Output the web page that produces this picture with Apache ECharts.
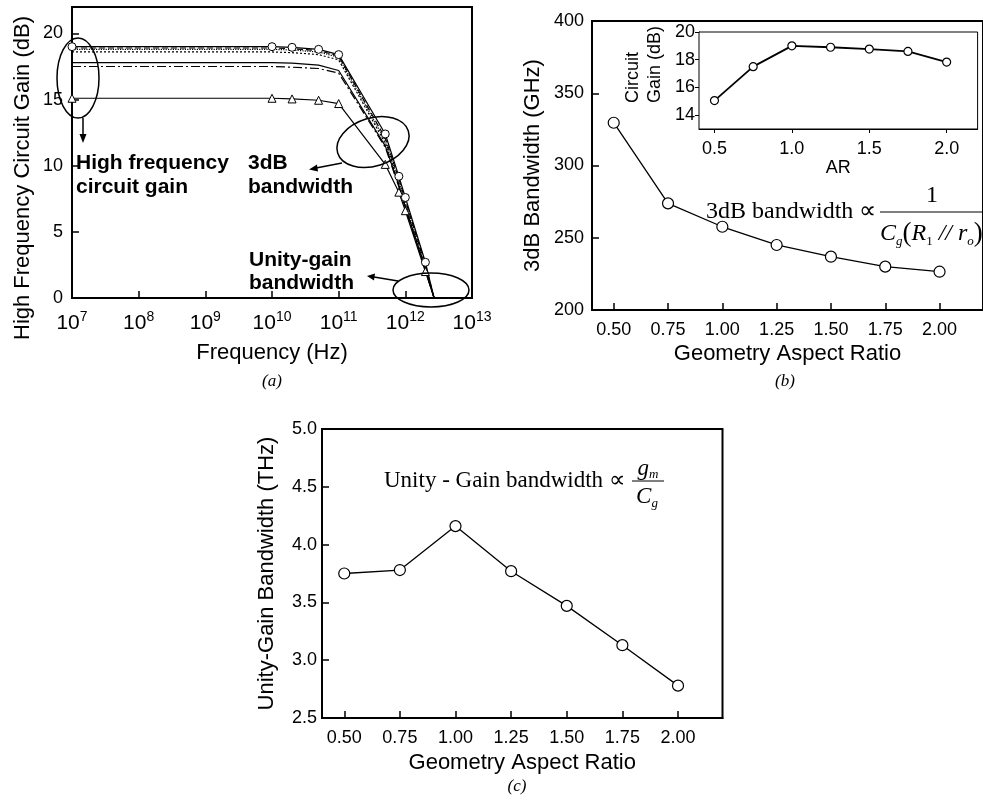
<!DOCTYPE html>
<html><head><meta charset="utf-8">
<script src="https://cdn.jsdelivr.net/npm/echarts@6/dist/echarts.min.js"></script>
<style>html,body{margin:0;padding:0;background:#fff}#c{width:983px;height:805px}</style>
</head><body><div id="c"></div>
<script>
// ---------- data ----------
const freqHz    = [1e7, 1e10, 2e10, 5e10, 1e11, 5e11, 8e11, 1e12, 2e12, 2.7e12];
const gainAR050 = [15.1, 15.1, 15.05, 14.95, 14.7, 10.1, 8.0, 6.6, 2.0, 0];
const gainAR075 = [17.5, 17.5, 17.45, 17.35, 17.0, 11.4, 8.4, 6.8, 2.1, 0];
const gainAR100 = [19.0, 19.0, 18.95, 18.8, 18.4, 12.4, 9.2, 7.6, 2.7, 0];
const gainAR125 = [18.9, 18.9, 18.85, 18.7, 18.3, 12.1, 9.0, 7.4, 2.5, 0];
const gainAR150 = [18.8, 18.8, 18.75, 18.6, 18.2, 11.9, 8.8, 7.2, 2.4, 0];
const gainAR175 = [18.6, 18.6, 18.55, 18.4, 18.0, 11.7, 8.6, 7.0, 2.2, 0];
const gainAR200 = [17.8, 17.8, 17.75, 17.6, 17.2, 11.5, 8.5, 6.9, 2.2, 0];
const freqTicks = [1e7, 1e8, 1e9, 1e10, 1e11, 1e12, 1e13];
const gainTicks = [0, 5, 10, 15, 20];

const aspectRatio   = [0.5, 0.75, 1.0, 1.25, 1.5, 1.75, 2.0];
const bw3dBGHz      = [329.6, 273.8, 257.6, 245.0, 236.9, 230.0, 226.5];
const circuitGainDB = [15.05, 17.5, 19.0, 18.9, 18.77, 18.6, 17.83];
const unityGainTHz  = [3.75, 3.78, 4.16, 3.77, 3.47, 3.13, 2.78];
const arTicks   = [0.5, 0.75, 1.0, 1.25, 1.5, 1.75, 2.0];
const insetXTicks = [0.5, 1.0, 1.5, 2.0];
const insetYTicks = [14, 16, 18, 20];

// ---------- helpers ----------
const SANS = 'Liberation Sans, Arial, Helvetica, sans-serif';
const SERIF = 'Liberation Serif, Times New Roman, serif';
const zip = (xs, ys) => xs.map((x, i) => [x, ys[i]]);
const lastIdx = freqHz.length - 1;

function baseAxis(extra) {
  return Object.assign({
    axisLine: { show: true, onZero: false, lineStyle: { color: '#000', width: 2 } },
    axisTick: { show: true, inside: true, length: 7, lineStyle: { color: '#000', width: 1.5 } },
    splitLine: { show: false },
    axisLabel: { color: '#000', fontSize: 18, fontFamily: SANS },
    nameTextStyle: { color: '#000', fontSize: 22, fontFamily: SANS },
    nameLocation: 'middle'
  }, extra);
}

function gainSeries(data, dash, sym) {
  return {
    type: 'line', xAxisIndex: 0, yAxisIndex: 0,
    data: zip(freqHz, data),
    lineStyle: { color: '#000', width: 1.2, type: dash },
    symbol: sym ? (v, p) => (p.dataIndex === lastIdx ? 'none' : sym) : 'none',
    symbolSize: 8,
    itemStyle: { color: '#fff', borderColor: '#000', borderWidth: 1 },
    z: sym ? 5 : 3
  };
}

const markerStyle = { color: '#fff', borderColor: '#000', borderWidth: 1.2 };
const boldNote = 'bold 21px ' + SANS;

const option = {
  animation: false,
  backgroundColor: '#fff',
  grid: [
    { left: 72, top: 7, width: 400, height: 291, show: true, borderColor: '#000', borderWidth: 2, containLabel: false },
    { left: 592, top: 21, width: 401, height: 289, show: true, borderColor: '#000', borderWidth: 2, containLabel: false },
    { left: 699, top: 32, width: 278.6, height: 97, show: true, borderColor: '#000', borderWidth: 1, backgroundColor: '#fff', containLabel: false, z: 4 },
    { left: 322, top: 429, width: 400.5, height: 289, show: true, borderColor: '#000', borderWidth: 2, containLabel: false }
  ],
  xAxis: [
    baseAxis({
      gridIndex: 0, type: 'log', logBase: 10, min: 1e7, max: 1e13,
      name: 'Frequency (Hz)', nameGap: 44,
      axisTick: { show: true, inside: true, length: 7, lineStyle: { color: '#000', width: 1.5 } },
      minorTick: { show: false },
      axisLabel: {
        color: '#000', margin: 12,
        formatter: v => '{b|10}{s|' + Math.round(Math.log10(v)) + '}',
        rich: {
          b: { fontSize: 21, lineHeight: 26, fontFamily: SANS, color: '#000' },
          s: { fontSize: 14, lineHeight: 14, verticalAlign: 'top', fontFamily: SANS, color: '#000' }
        }
      }
    }),
    baseAxis({
      gridIndex: 1, type: 'value', min: 0.4, max: 2.2,
      name: 'Geometry Aspect Ratio', nameGap: 33,
      axisLabel: { color: '#000', fontSize: 18, fontFamily: SANS, margin: 11, customValues: arTicks, formatter: v => v.toFixed(2) },
      axisTick: { show: true, inside: true, length: 7, customValues: arTicks, lineStyle: { color: '#000', width: 1.5 } }
    }),
    baseAxis({
      gridIndex: 2, type: 'value', min: 0.4, max: 2.2,
      name: 'AR', nameGap: 30, nameTextStyle: { color: '#000', fontSize: 18, fontFamily: SANS },
      axisLine: { show: true, onZero: false, lineStyle: { color: '#000', width: 1 } },
      axisLabel: { color: '#000', fontSize: 18, fontFamily: SANS, margin: 11, customValues: insetXTicks, formatter: v => v.toFixed(1) },
      axisTick: { show: true, inside: false, length: 4, customValues: insetXTicks, lineStyle: { color: '#000', width: 1 } }
    }),
    baseAxis({
      gridIndex: 3, type: 'value', min: 0.4, max: 2.2,
      name: 'Geometry Aspect Ratio', nameGap: 34,
      axisLabel: { color: '#000', fontSize: 18, fontFamily: SANS, margin: 11, customValues: arTicks, formatter: v => v.toFixed(2) },
      axisTick: { show: true, inside: true, length: 7, customValues: arTicks, lineStyle: { color: '#000', width: 1.5 } }
    })
  ],
  yAxis: [
    baseAxis({
      gridIndex: 0, type: 'value', min: 0, max: 22,
      axisLabel: { color: '#000', fontSize: 18, fontFamily: SANS, margin: 9, customValues: gainTicks },
      axisTick: { show: true, inside: true, length: 7, customValues: gainTicks, lineStyle: { color: '#000', width: 1.5 } }
    }),
    baseAxis({
      gridIndex: 1, type: 'value', min: 200, max: 400, interval: 50,
      name: '3dB Bandwidth (GHz)', nameGap: 48,
      axisLabel: { color: '#000', fontSize: 18, fontFamily: SANS, margin: 8 }
    }),
    baseAxis({
      gridIndex: 2, type: 'value', min: 13, max: 20,
      axisLine: { show: true, onZero: false, lineStyle: { color: '#000', width: 1 } },
      axisLabel: { color: '#000', fontSize: 18, fontFamily: SANS, margin: 4, customValues: insetYTicks },
      axisTick: { show: true, inside: false, length: 4, customValues: insetYTicks, lineStyle: { color: '#000', width: 1 } }
    }),
    baseAxis({
      gridIndex: 3, type: 'value', min: 2.5, max: 5.0, interval: 0.5,
      name: 'Unity-Gain Bandwidth (THz)', nameGap: 44,
      axisLabel: { color: '#000', fontSize: 18, fontFamily: SANS, margin: 5, formatter: v => v.toFixed(1) }
    })
  ],
  series: [
    gainSeries(gainAR200, 'solid', null),
    gainSeries(gainAR075, [9, 3, 2, 3], null),
    gainSeries(gainAR175, [2, 2], null),
    gainSeries(gainAR150, 'dotted', null),
    gainSeries(gainAR125, [6, 3], null),
    gainSeries(gainAR050, 'solid', 'triangle'),
    gainSeries(gainAR100, 'solid', 'circle'),
    {
      type: 'line', xAxisIndex: 1, yAxisIndex: 1, data: zip(aspectRatio, bw3dBGHz),
      lineStyle: { color: '#000', width: 1.3 }, symbol: 'circle', symbolSize: 11, itemStyle: markerStyle
    },
    {
      type: 'line', xAxisIndex: 2, yAxisIndex: 2, data: zip(aspectRatio, circuitGainDB), z: 6,
      lineStyle: { color: '#000', width: 1.8 }, symbol: 'circle', symbolSize: 8, itemStyle: markerStyle
    },
    {
      type: 'line', xAxisIndex: 3, yAxisIndex: 3, data: zip(aspectRatio, unityGainTHz),
      lineStyle: { color: '#000', width: 1.3 }, symbol: 'circle', symbolSize: 11, itemStyle: markerStyle
    }
  ],
  graphic: [
    // panel (a) y title
    { type: 'text', x: 23, y: 178, rotation: Math.PI / 2,
      style: { text: 'High Frequency Circuit Gain (dB)', font: '22px ' + SANS, fill: '#000', textAlign: 'center', textVerticalAlign: 'middle' } },
    // annotations panel (a)
    { type: 'ellipse', shape: { cx: 78, cy: 78, rx: 21, ry: 40 }, style: { fill: 'none', stroke: '#000', lineWidth: 1.5 }, z: 10 },
    { type: 'line', shape: { x1: 83, y1: 118, x2: 83, y2: 136 }, style: { stroke: '#000', lineWidth: 1.5 }, z: 10 },
    { type: 'polygon', shape: { points: [[83, 143], [79.5, 134], [86.5, 134]] }, style: { fill: '#000' }, z: 10 },
    { type: 'text', x: 76, y: 151, style: { text: 'High frequency\ncircuit gain', font: boldNote, fill: '#000', lineHeight: 24, textVerticalAlign: 'top' }, z: 10 },
    { type: 'text', x: 248, y: 151, style: { text: '3dB\nbandwidth', font: boldNote, fill: '#000', lineHeight: 24, textVerticalAlign: 'top' }, z: 10 },
    { type: 'text', x: 249, y: 248, style: { text: 'Unity-gain\nbandwidth', font: boldNote, fill: '#000', lineHeight: 23.5, textVerticalAlign: 'top' }, z: 10 },
    { type: 'ellipse', x: 373, y: 142, rotation: 0.3, shape: { cx: 0, cy: 0, rx: 37, ry: 24 }, style: { fill: 'none', stroke: '#000', lineWidth: 1.5 }, z: 10 },
    { type: 'line', shape: { x1: 342, y1: 163, x2: 316, y2: 168 }, style: { stroke: '#000', lineWidth: 1.5 }, z: 10 },
    { type: 'polygon', shape: { points: [[309, 169.5], [317, 164.5], [318, 171.5]] }, style: { fill: '#000' }, z: 10 },
    { type: 'ellipse', shape: { cx: 431, cy: 290, rx: 38, ry: 17 }, style: { fill: 'none', stroke: '#000', lineWidth: 1.5 }, z: 10 },
    { type: 'line', shape: { x1: 398, y1: 281, x2: 374, y2: 277 }, style: { stroke: '#000', lineWidth: 1.5 }, z: 10 },
    { type: 'polygon', shape: { points: [[367, 276], [375, 273.5], [374, 280.5]] }, style: { fill: '#000' }, z: 10 },
    // inset y title
    { type: 'text', x: 633, y: 103, rotation: Math.PI / 2, style: { text: 'Circuit', font: '18px ' + SANS, fill: '#000', textAlign: 'left', textVerticalAlign: 'middle' }, z: 10 },
    { type: 'text', x: 655, y: 103, rotation: Math.PI / 2, style: { text: 'Gain (dB)', font: '18px ' + SANS, fill: '#000', textAlign: 'left', textVerticalAlign: 'middle' }, z: 10 },
    // formula (b)
    { type: 'text', x: 706, y: 212, style: { text: '3dB bandwidth \u221d', font: '24px ' + SERIF, fill: '#000', textVerticalAlign: 'middle' }, z: 10 },
    { type: 'text', x: 932, y: 196, style: { text: '1', font: '24px ' + SERIF, fill: '#000', textAlign: 'center', textVerticalAlign: 'middle' }, z: 10 },
    { type: 'line', shape: { x1: 880, y1: 212, x2: 990, y2: 212 }, style: { stroke: '#000', lineWidth: 1 }, z: 10 },
    { type: 'text', x: 880, y: 234, z: 10,
      style: {
        text: '{i|C}{sub|g}{p|(}{i|R}{sb|1}{i| // r}{sub|o}{p|)}', textVerticalAlign: 'middle', fill: '#000',
        rich: {
          i: { font: 'italic 24px ' + SERIF, fill: '#000', verticalAlign: 'middle', lineHeight: 28 },
          p: { font: '27px ' + SERIF, fill: '#000', verticalAlign: 'middle', lineHeight: 28 },
          sub: { font: 'italic 13px ' + SERIF, fill: '#000', verticalAlign: 'bottom', lineHeight: 13 },
          sb: { font: '13px ' + SERIF, fill: '#000', verticalAlign: 'bottom', lineHeight: 13 }
        }
      } },
    // formula (c)
    { type: 'text', x: 384, y: 481, style: { text: 'Unity - Gain bandwidth \u221d', font: '23px ' + SERIF, fill: '#000', textVerticalAlign: 'middle' }, z: 10 },
    { type: 'text', x: 648, y: 469, z: 10,
      style: {
        text: '{i|g}{sub|m}', textAlign: 'center', textVerticalAlign: 'middle', fill: '#000',
        rich: {
          i: { font: 'italic 23px ' + SERIF, fill: '#000', verticalAlign: 'middle', lineHeight: 24 },
          sub: { font: 'italic 13px ' + SERIF, fill: '#000', verticalAlign: 'bottom', lineHeight: 13 }
        }
      } },
    { type: 'line', shape: { x1: 632, y1: 481, x2: 664, y2: 481 }, style: { stroke: '#000', lineWidth: 1 }, z: 10 },
    { type: 'text', x: 647, y: 497, z: 10,
      style: {
        text: '{i|C}{sub|g}', textAlign: 'center', textVerticalAlign: 'middle', fill: '#000',
        rich: {
          i: { font: 'italic 23px ' + SERIF, fill: '#000', verticalAlign: 'middle', lineHeight: 26 },
          sub: { font: 'italic 13px ' + SERIF, fill: '#000', verticalAlign: 'bottom', lineHeight: 13 }
        }
      } },
    // panel labels
    { type: 'text', x: 272, y: 382, style: { text: '(a)', font: 'italic 17px ' + SERIF, fill: '#000', textAlign: 'center', textVerticalAlign: 'middle' } },
    { type: 'text', x: 785, y: 382, style: { text: '(b)', font: 'italic 17px ' + SERIF, fill: '#000', textAlign: 'center', textVerticalAlign: 'middle' } },
    { type: 'text', x: 517, y: 787, style: { text: '(c)', font: 'italic 17px ' + SERIF, fill: '#000', textAlign: 'center', textVerticalAlign: 'middle' } }
  ]
};

const chart = echarts.init(document.getElementById('c'), null, { renderer: 'canvas' });
chart.setOption(option);
</script>
</body></html>
